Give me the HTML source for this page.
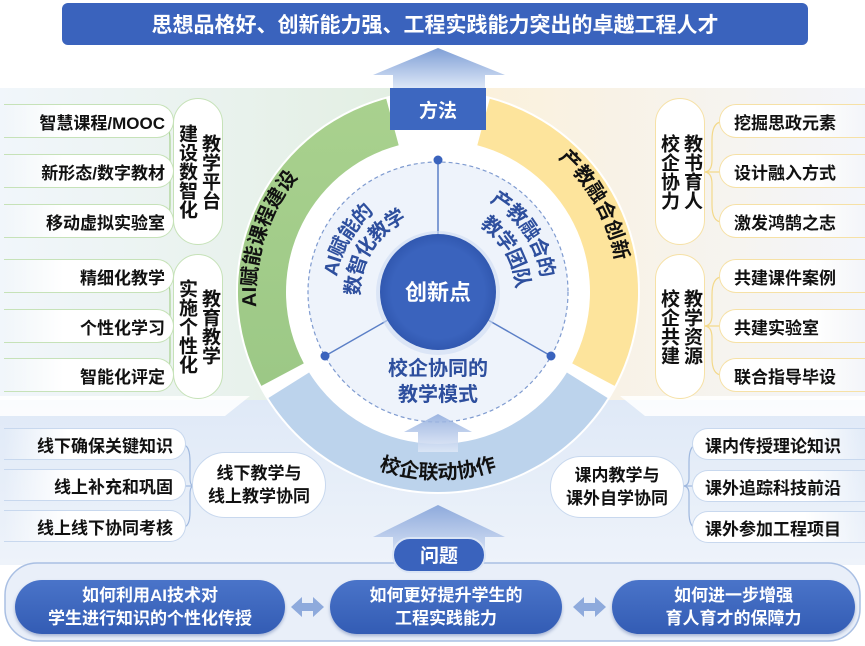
<!DOCTYPE html>
<html><head><meta charset="utf-8">
<style>
*{margin:0;padding:0;box-sizing:border-box}
body{width:865px;height:646px;overflow:hidden;background:#fff;font-family:"Liberation Sans","Noto Sans CJK SC",sans-serif;position:relative}
.a{position:absolute}
.pl{position:absolute;height:34px;border-radius:0 18px 18px 0;background:linear-gradient(90deg,rgba(255,255,255,0),#fff 35%);font-weight:bold;font-size:17px;color:#111;display:flex;align-items:center;white-space:nowrap}
.pg{border:1.5px solid #c6e2b8;border-left:none;justify-content:flex-end;padding-right:8px}
.py{border:1.5px solid #f6e1a6;border-right:none;border-radius:18px 0 0 18px;background:linear-gradient(270deg,rgba(255,255,255,0),#fff 35%);padding-left:14px}
.pb{border:1.5px solid #c8d8ee;border-left:none;justify-content:flex-end;padding-right:12px}
.pbr{border:1.5px solid #c8d8ee;border-right:none;border-radius:18px 0 0 18px;background:linear-gradient(270deg,rgba(255,255,255,0),#fff 35%);padding-left:12px}
.vp{position:absolute;width:50px;border-radius:25px;background:#fff;writing-mode:vertical-rl;font-weight:bold;font-size:19px;line-height:23px;color:#111;display:flex;align-items:center;justify-content:center;text-align:center}
.ov{position:absolute;border-radius:34px;background:#fff;border:1.5px solid #c8d8ee;font-weight:bold;font-size:17px;line-height:23px;color:#111;display:flex;align-items:center;justify-content:center;text-align:center}
.bp{position:absolute;height:54px;border-radius:27px;background:linear-gradient(#4a74c9,#335cb4);color:#fff;font-weight:bold;font-size:17px;line-height:23px;display:flex;align-items:center;justify-content:center;text-align:center;box-shadow:0 2px 3px rgba(40,70,140,.35)}
</style></head><body>
<svg class="a" style="left:0;top:0" width="865" height="646" viewBox="0 0 865 646">
<defs>
<linearGradient id="lg" x1="0" x2="1"><stop offset="0" stop-color="#f1f6fb"/><stop offset="1" stop-color="#e3efe3"/></linearGradient>
<linearGradient id="rg" x1="0" x2="1"><stop offset="0" stop-color="#fbf1dc"/><stop offset="1" stop-color="#f3f5fa"/></linearGradient>
<linearGradient id="bg" x1="0" y1="0" x2="0" y2="1"><stop offset="0" stop-color="#dfe9f7"/><stop offset="1" stop-color="#eef3fa"/></linearGradient>
<linearGradient id="ar" x1="0" y1="0" x2="0" y2="1"><stop offset="0" stop-color="#7f9fd6"/><stop offset="1" stop-color="#e6eefa"/></linearGradient>
<linearGradient id="ar2" x1="0" y1="0" x2="0" y2="1"><stop offset="0" stop-color="#8eaadc"/><stop offset="1" stop-color="#dfe8f7"/></linearGradient>
<linearGradient id="gr" x1="0" y1="0" x2="0" y2="1"><stop offset="0" stop-color="#a9d18e"/><stop offset="1" stop-color="#9cc886"/></linearGradient>
<radialGradient id="cc"><stop offset=".8" stop-color="#3a63bd"/><stop offset="1" stop-color="#3158b0"/></radialGradient>
<path id="tg" d="M280 383 A180 180 0 0 1 361.9 128.9"/>
<path id="ty" d="M484.6 118.1 A180 180 0 0 1 610.1 344.6"/>
<path id="tb" d="M276 385.5 A187 187 0 0 0 600 385.5"/>
<path id="i1" d="M333.7 320 A108 108 0 0 1 410 187.7"/>
<path id="i2" d="M356.1 310.9 A84 84 0 0 1 419.1 210.2"/>
<path id="i3" d="M459 184 A110 110 0 0 1 546 313"/>
<path id="i4" d="M459.7 210.9 A84 84 0 0 1 519.1 313.7"/>
</defs>
<polygon points="0,88 390,88 390,400 290,400 260,410 0,410" fill="url(#lg)"/>
<polygon points="486,88 865,88 865,410 620,410 590,400 486,400" fill="url(#rg)"/>
<rect x="0" y="400" width="865" height="165" fill="url(#bg)"/>
<polygon points="0,396 250,396 225,416 0,416" fill="#fff" opacity=".85"/>
<polygon points="620,396 865,396 865,416 645,416" fill="#fff" opacity=".85"/>
<rect x="62" y="3" width="746" height="42" rx="6" fill="#3a63bd"/>
<text x="435" y="32" text-anchor="middle" font-size="21" font-weight="bold" fill="#fff">思想品格好、创新能力强、工程实践能力突出的卓越工程人才</text>
<polygon points="438,48 505,75 485,75 485,92 393,92 393,75 373,75" fill="url(#ar)"/>
<circle cx="438" cy="292" r="202" fill="#fff"/>
<path d="M261.4 385.9 A200 200 0 0 1 386.2 98.8 L398.7 145.2 A152 152 0 0 0 303.8 363.4 Z" fill="url(#gr)"/>
<path d="M489.8 98.8 A200 200 0 0 1 614.6 385.9 L572.2 363.4 A152 152 0 0 0 477.3 145.2 Z" fill="#fde49c"/>
<path d="M607.6 398 A200 200 0 0 1 268.4 398 L309.1 372.5 A152 152 0 0 0 566.9 372.5 Z" fill="#bcd3ec"/>
<rect x="390" y="88" width="96" height="42" fill="#3d67c0"/>
<text x="438" y="117" text-anchor="middle" font-size="19" font-weight="bold" fill="#fff">方法</text>
<circle cx="438" cy="292" r="130" fill="#eef3fb" stroke="#7f9bd0" stroke-width="1.2" stroke-dasharray="4 3"/>
<line x1="438" y1="160" x2="438" y2="234" stroke="#5b7fc6" stroke-width="1.5"/>
<line x1="325" y1="356" x2="388" y2="320" stroke="#5b7fc6" stroke-width="1.5"/>
<line x1="551" y1="356" x2="488" y2="320" stroke="#5b7fc6" stroke-width="1.5"/>
<circle cx="438" cy="160" r="4.5" fill="#3a63bd"/>
<circle cx="325" cy="356" r="4.5" fill="#3a63bd"/>
<circle cx="551" cy="356" r="4.5" fill="#3a63bd"/>
<circle cx="438" cy="293" r="62" fill="#cfdcf3" opacity=".6"/>
<circle cx="438" cy="292" r="58" fill="url(#cc)"/>
<text x="438" y="300" text-anchor="middle" font-size="22" font-weight="bold" fill="#fff">创新点</text>
<g font-size="20" font-weight="bold" fill="#2e4f9e">
<text><textPath href="#i1" startOffset="50%" text-anchor="middle" dominant-baseline="central">AI赋能的</textPath></text>
<text><textPath href="#i2" startOffset="50%" text-anchor="middle" dominant-baseline="central">数智化教学</textPath></text>
<text><textPath href="#i3" startOffset="50%" text-anchor="middle" dominant-baseline="central">产教融合的</textPath></text>
<text><textPath href="#i4" startOffset="50%" text-anchor="middle" dominant-baseline="central">教学团队</textPath></text>
<text x="438" y="375" text-anchor="middle">校企协同的</text>
<text x="438" y="401" text-anchor="middle">教学模式</text>
</g>
<!-- small inner arrow -->
<polygon points="438,414 472,432 458,432 458,452 418,452 418,432 404,432" fill="url(#ar2)" opacity=".85"/>
<g font-size="20" font-weight="bold" fill="#111">
<text><textPath href="#tg" startOffset="50%" text-anchor="middle">AI赋能课程建设</textPath></text>
<text><textPath href="#ty" startOffset="50%" text-anchor="middle">产教融合创新</textPath></text>
<text><textPath href="#tb" startOffset="50%" text-anchor="middle">校企联动协作</textPath></text>
</g>
<g fill="none" stroke-width="1.2">
<path d="M160 122 Q170 122 170 140 L170 160 Q170 172 176 172 Q170 172 170 184 L170 205 Q170 222 160 222" stroke="#a8d290"/>
<path d="M160 172 L176 172" stroke="#a8d290"/>
<path d="M160 277 Q170 277 170 295 L170 315 Q170 326 176 326 Q170 326 170 338 L170 358 Q170 375 160 375" stroke="#a8d290"/>
<path d="M160 326 L176 326" stroke="#a8d290"/>
<path d="M722 122 Q712 122 712 140 L712 160 Q712 172 704 172 Q712 172 712 184 L712 205 Q712 222 722 222" stroke="#f3d98a"/>
<path d="M722 172 L704 172" stroke="#f3d98a"/>
<path d="M722 277 Q712 277 712 295 L712 315 Q712 326 704 326 Q712 326 712 338 L712 358 Q712 375 722 375" stroke="#f3d98a"/>
<path d="M722 326 L704 326" stroke="#f3d98a"/>
<path d="M183 445 Q190 445 190 462 L190 478 Q190 486 194 486 Q190 486 190 494 L190 512 Q190 527 183 527" stroke="#9fb8de"/>
<path d="M183 486 L194 486" stroke="#9fb8de"/>
<path d="M697 445 Q689 445 689 462 L689 478 Q689 486 683 486 Q689 486 689 494 L689 512 Q689 528 697 528" stroke="#9fb8de"/>
<path d="M697 486 L683 486" stroke="#9fb8de"/>
</g>
<polygon points="438,505 505,537 485,537 485,560 393,560 393,537 373,537" fill="url(#ar2)"/>
<rect x="5" y="563" width="855" height="78" rx="32" fill="#e9eff9" stroke="#a9bfe3" stroke-width="1.5"/>
<rect x="393" y="538" width="92" height="34" rx="17" fill="#3a63bd" stroke="#dbe5f5" stroke-width="2"/>
<text x="439" y="562" text-anchor="middle" font-size="19" font-weight="bold" fill="#fff">问题</text>
<g fill="#8eaadc">
<polygon points="291,607 302,597 302,603 313,603 313,597 324,607 313,617 313,611 302,611 302,617"/>
<polygon points="573,607 584,597 584,603 595,603 595,597 606,607 595,617 595,611 584,611 584,617"/>
</g>
</svg>

<div class="pl pg" style="left:4px;top:104px;width:170px">智慧课程/MOOC</div>
<div class="pl pg" style="left:4px;top:154px;width:170px">新形态/数字教材</div>
<div class="pl pg" style="left:4px;top:204px;width:170px">移动虚拟实验室</div>
<div class="pl pg" style="left:4px;top:259px;width:170px">精细化教学</div>
<div class="pl pg" style="left:4px;top:309px;width:170px">个性化学习</div>
<div class="pl pg" style="left:4px;top:358px;width:170px">智能化评定</div>
<div class="vp" style="left:173px;top:98px;height:147px;border:1.5px solid #c6e2b8">教学平台<br>建设数智化</div>
<div class="vp" style="left:173px;top:254px;height:145px;border:1.5px solid #c6e2b8">教育教学<br>实施个性化</div>
<div class="vp" style="left:655px;top:98px;height:147px;border:1.5px solid #f6e1a6">教书育人<br>校企协力</div>
<div class="vp" style="left:655px;top:254px;height:145px;border:1.5px solid #f6e1a6">教学资源<br>校企共建</div>
<div class="pl py" style="left:719px;top:104px;width:146px">挖掘思政元素</div>
<div class="pl py" style="left:719px;top:154px;width:146px">设计融入方式</div>
<div class="pl py" style="left:719px;top:204px;width:146px">激发鸿鹄之志</div>
<div class="pl py" style="left:719px;top:259px;width:146px">共建课件案例</div>
<div class="pl py" style="left:719px;top:309px;width:146px">共建实验室</div>
<div class="pl py" style="left:719px;top:358px;width:146px">联合指导毕设</div>
<div class="pl pb" style="left:4px;top:428px;width:182px;height:32px">线下确保关键知识</div>
<div class="pl pb" style="left:4px;top:469px;width:182px;height:32px">线上补充和巩固</div>
<div class="pl pb" style="left:4px;top:510px;width:182px;height:32px">线上线下协同考核</div>
<div class="ov" style="left:192px;top:452px;width:134px;height:66px">线下教学与<br>线上教学协同</div>
<div class="ov" style="left:550px;top:456px;width:134px;height:62px">课内教学与<br>课外自学协同</div>
<div class="pl pbr" style="left:692px;top:428px;width:173px;height:32px">课内传授理论知识</div>
<div class="pl pbr" style="left:692px;top:470px;width:173px;height:32px">课外追踪科技前沿</div>
<div class="pl pbr" style="left:692px;top:511px;width:173px;height:32px">课外参加工程项目</div>
<div class="bp" style="left:15px;top:580px;width:270px">如何利用AI技术对<br>学生进行知识的个性化传授</div>
<div class="bp" style="left:330px;top:580px;width:232px">如何更好提升学生的<br>工程实践能力</div>
<div class="bp" style="left:612px;top:580px;width:243px">如何进一步增强<br>育人育才的保障力</div>
</body></html>
